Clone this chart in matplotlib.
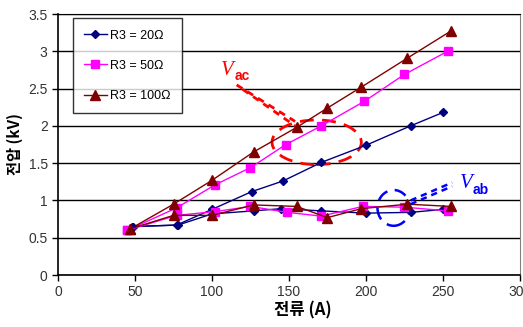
import matplotlib
matplotlib.use('Agg')
import matplotlib.pyplot as plt
from matplotlib.patches import Ellipse

plt.rcParams['font.family'] = ['Liberation Sans', 'DejaVu Sans']

# V_ac curves (upper, straight lines)
x20_ac = [48, 77, 100, 126, 146, 171, 200, 229, 250]
y20_ac = [0.65, 0.67, 0.88, 1.12, 1.26, 1.51, 1.74, 2.0, 2.18]
x50_ac = [45, 77, 102, 125, 148, 171, 199, 225, 253]
y50_ac = [0.6, 0.9, 1.21, 1.44, 1.75, 2.0, 2.33, 2.69, 3.0]
x100_ac = [47, 75, 100, 127, 155, 175, 197, 227, 255]
y100_ac = [0.62, 0.95, 1.27, 1.65, 1.98, 2.24, 2.52, 2.91, 3.27]

# V_ab curves (lower)
x20_ab = [49, 78, 100, 127, 145, 171, 200, 229, 250]
y20_ab = [0.65, 0.67, 0.82, 0.86, 0.89, 0.86, 0.83, 0.84, 0.88]
x50_ab = [45, 77, 102, 125, 149, 171, 198, 225, 253]
y50_ab = [0.6, 0.80, 0.85, 0.92, 0.84, 0.79, 0.92, 0.91, 0.86]
x100_ab = [47, 75, 100, 127, 155, 175, 197, 227, 255]
y100_ab = [0.62, 0.80, 0.80, 0.94, 0.92, 0.77, 0.89, 0.95, 0.92]

labels = ['R3 = 20Ω', 'R3 = 50Ω', 'R3 = 100Ω']
xticks = [0, 50, 100, 150, 200, 250, 300]
yticks = [0, 0.5, 1, 1.5, 2, 2.5, 3, 3.5]
ytick_labels = ['0', '0.5', '1', '1.5', '2', '2.5', '3', '3.5']

navy, pink, maroon = '#000080', '#ff00ff', '#800000'
styles = [
    dict(color=navy, marker='D', markersize=4.5),
    dict(color=pink, marker='s', markersize=5.5),
    dict(color=maroon, marker='^', markersize=6.5),
]

fig = plt.figure(figsize=(5.23, 3.27), dpi=100)
ax = fig.add_axes([0.111, 0.159, 0.883, 0.798])

ac = [(x20_ac, y20_ac), (x50_ac, y50_ac), (x100_ac, y100_ac)]
ab = [(x20_ab, y20_ab), (x50_ab, y50_ab), (x100_ab, y100_ab)]
handles = []
for (xs, ys), st, lab in zip(ac, styles, labels):
    h, = ax.plot(xs, ys, lw=1, label=lab, **st)
    handles.append(h)
for (xs, ys), st in zip(ab, styles):
    ax.plot(xs, ys, lw=1, **st)

ax.set_xlim(0, 300)
ax.set_ylim(0, 3.5)
ax.set_xticks(xticks)
ax.set_yticks(yticks)
ax.set_yticklabels(ytick_labels)
ax.tick_params(labelsize=10, labelcolor='#333333', length=4, width=1)
ax.yaxis.grid(True, color='black', lw=1)
ax.set_axisbelow(True)
for s in ['left', 'bottom']:
    ax.spines[s].set_linewidth(1.2)
ax.spines['right'].set_color('#808080')

kfont = ['Noto Sans CJK KR', 'DejaVu Sans']
ax.set_xlabel('전류 (A)', family=kfont, fontweight='bold', fontsize=12)
ax.xaxis.set_label_coords(0.53, -0.1)
ax.set_ylabel('전압 (kV)', family=kfont, fontweight='bold', fontsize=11, labelpad=4)

leg = ax.legend(handles=handles, loc='upper left', bbox_to_anchor=(0.032, 0.983),
                fontsize=9, frameon=True, fancybox=False, edgecolor='black',
                labelspacing=1.45, handlelength=1.8, borderpad=0.9, handletextpad=0.3,
                borderaxespad=0)
leg.get_frame().set_linewidth(1)

# V_ac annotation
ax.add_patch(Ellipse((168, 1.78), 58, 0.6, fill=False, ls=(0, (5, 3)), lw=2, color='red'))
for dy in (0, -0.06):
    ax.plot([116 + 4 * (dy != 0), 154], [2.55 + dy, 2.06 + dy], color='red', lw=2, ls=(0, (2.5, 2)))
ax.text(106, 2.68, 'V', color='red', fontsize=15, family='Liberation Serif', style='italic')
ax.text(114.5, 2.61, 'ac', color='red', fontsize=10, fontweight='bold')

# V_ab annotation
ax.add_patch(Ellipse((218, 0.9), 21, 0.48, fill=False, ls=(0, (5, 3)), lw=1.8, color='blue'))
for dy in (0, -0.05):
    ax.plot([229, 256], [1.0 + dy, 1.24 + dy], color='blue', lw=1.8, ls=(0, (2.5, 2)))
ax.text(261, 1.17, 'V', color='blue', fontsize=15, family='Liberation Serif', style='italic')
ax.text(269, 1.09, 'ab', color='blue', fontsize=10, fontweight='bold')

fig.savefig('out.png', dpi=100)
